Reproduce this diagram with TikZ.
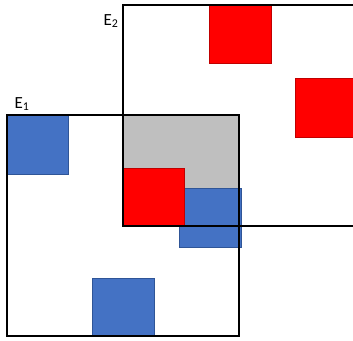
\documentclass[tikz,border=0pt]{standalone}
\usepackage{fontspec}
\setmainfont{Carlito}
\definecolor{myblue}{HTML}{4472C4}
\definecolor{myblueedge}{HTML}{2F5597}
\definecolor{myred}{HTML}{FF0000}
\definecolor{myrededge}{HTML}{C00000}
\definecolor{mygray}{HTML}{BFBFBF}
\begin{document}
\begin{tikzpicture}[x=1pt,y=-1pt,
  bluesq/.style={fill=myblue,draw=myblueedge,line width=0.6pt},
  redsq/.style={fill=myred,draw=myrededge,line width=0.6pt},
  setbox/.style={draw=black,line width=1.8pt},
  lbl/.style={font=\fontsize{17}{17}\selectfont,inner sep=0pt}]
\useasboundingbox (0,0) rectangle (353,340);
\begin{scope}
\clip (0,0) rectangle (353,340);
% intersection
\fill[mygray] (123,115) rectangle (239,226);
% blue squares
\draw[bluesq] (7,115) rectangle (68,174);
\draw[bluesq] (92,278) rectangle (154,336);
\draw[bluesq] (179,188) rectangle (241,247);
% red squares
\draw[redsq] (209,5) rectangle (271,63);
\draw[redsq] (295,78) rectangle (360,137);
\draw[redsq] (123,168) rectangle (184,226);
% sets
\draw[setbox] (7,115) rectangle (239,336);
\draw[setbox] (123,5) rectangle (365,226);
\end{scope}
\node[lbl] (e1) at (22,104) {E\textsubscript{1}};
\node[lbl] (e2) at (111,21) {E\textsubscript{2}};
\end{tikzpicture}
\end{document}
